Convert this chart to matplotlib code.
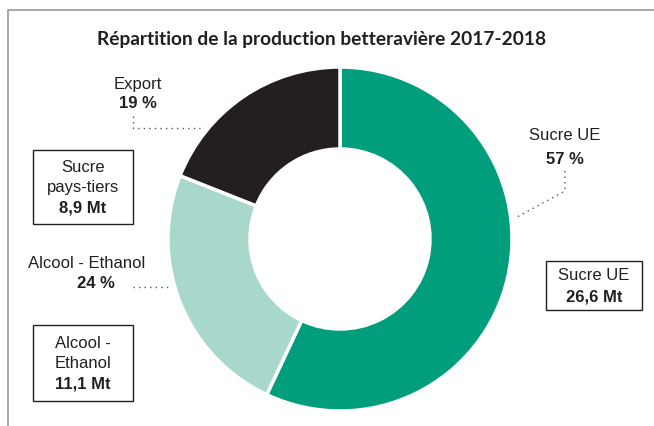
import matplotlib.pyplot as plt
from matplotlib.patches import Rectangle

# donnees
categories = ["Sucre UE", "Alcool - Ethanol", "Export"]
parts = [57, 24, 19]
colors = ["#009e7d", "#a8d8cc", "#231f20"]
box_labels = ["Sucre UE", "Alcool -\nEthanol", "Sucre\npays-tiers"]
box_values = ["26,6 Mt", "11,1 Mt", "8,9 Mt"]
title = "Répartition de la production betteravière 2017-2018"

W, H = 654, 427
fig = plt.figure(figsize=(W / 100, H / 100), dpi=100)
ax = fig.add_axes([0, 0, 1, 1])


def Y(y):
    return H - y


ax.pie(parts, colors=colors, startangle=90, counterclock=False,
       center=(340, Y(240)), radius=172, frame=True,
       wedgeprops=dict(width=82, edgecolor="white", linewidth=2.5))
ax.set_xlim(0, W)
ax.set_ylim(0, H)
ax.set_aspect("auto")
ax.axis("off")

# cadre gris
ax.plot([8, 8, W + 5], [Y(H + 5), Y(11), Y(11)], color="#9a9a9a", lw=1.2)

ax.text(322, Y(40), title, ha="center", va="center", fontsize=13.8,
        fontweight="bold", family="Lato", color="#231f20")

fnt = dict(family="Liberation Sans", fontsize=12, color="#231f20")
dot = dict(color="#555555", lw=1, linestyle=(0, (1, 3)))

# etiquettes pourcentages
ax.text(565, Y(136), categories[0], ha="center", va="center", **fnt)
ax.text(565, Y(159), f"{parts[0]} %", ha="center", va="center", fontweight="bold", **fnt)
ax.plot([565, 565, 517], [Y(172), Y(192), Y(218)], **dot)

ax.text(87, Y(263), categories[1], ha="center", va="center", **fnt)
ax.text(96, Y(284), f"{parts[1]} %", ha="center", va="center", fontweight="bold", **fnt)
ax.plot([133, 168], [Y(288), Y(288)], **dot)

ax.text(138, Y(84), categories[2], ha="center", va="center", **fnt)
ax.text(138, Y(104), f"{parts[2]} %", ha="center", va="center", fontweight="bold", **fnt)
ax.plot([133, 133, 200], [Y(117), Y(129), Y(129)], **dot)

# encadres tonnages
boxes = [(546, 262, 96, 49), (33, 326, 100, 76), (33, 151, 100, 74)]
for (x0, y0, w, h), lab, val in zip(boxes, box_labels, box_values):
    ax.add_patch(Rectangle((x0, Y(y0 + h)), w, h, fill=False, ec="#231f20", lw=1))
    n = lab.count("\n") + 1
    cx = x0 + w / 2
    top = y0 + h / 2 - (n + 1) * 20.5 / 2 + 10
    for i, line in enumerate(lab.split("\n")):
        ax.text(cx, Y(top + i * 20.5), line, ha="center", va="center", **fnt)
    ax.text(cx, Y(top + n * 20.5), val, ha="center", va="center", fontweight="bold", **fnt)

fig.savefig("out.png", dpi=100)
